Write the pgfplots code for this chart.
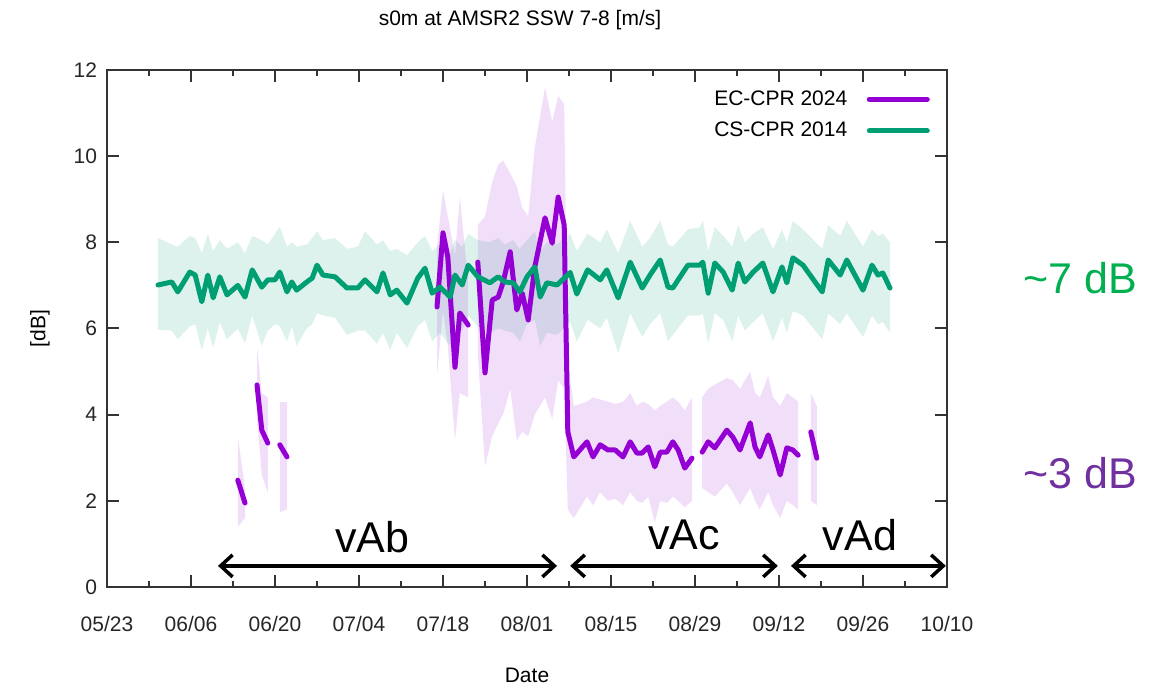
\documentclass[border=0pt]{standalone}
\usepackage{fontspec}
\setmainfont{Liberation Sans}
\usepackage{pgfplots}
\usepackage{pgfplotstable}
\pgfplotsset{compat=1.18}
\usepgfplotslibrary{fillbetween}
\usetikzlibrary{arrows.meta}
\definecolor{ecp}{HTML}{9400D3}
\definecolor{csg}{HTML}{009E73}
\definecolor{txtg}{HTML}{00B050}
\definecolor{txtp}{HTML}{7030A0}

\pgfplotstableread{
x y lo hi
8.5 7.01 5.97 8.10
10.8 7.08 5.95 7.95
11.8 6.85 5.75 7.90
13.8 7.31 6.05 8.15
14.7 7.24 6.10 8.10
15.8 6.62 5.50 7.75
16.8 7.24 6.00 8.20
17.7 6.71 5.55 7.80
18.8 7.20 6.15 8.05
20.0 6.78 5.75 7.85
21.8 7.00 6.00 8.00
23.0 6.73 5.65 7.75
24.2 7.36 6.30 8.15
25.8 6.96 5.60 8.05
26.8 7.13 5.95 7.95
28.0 7.13 6.10 8.20
28.8 7.31 6.05 8.36
30.0 6.85 5.70 7.90
30.8 7.08 6.05 8.00
31.6 6.89 5.60 7.90
33.3 7.08 6.00 7.95
34.2 7.17 6.10 8.10
35.0 7.47 6.35 8.26
36.0 7.24 6.30 8.05
38.0 7.20 6.25 8.10
40.0 6.94 5.85 7.85
41.8 6.94 5.95 7.90
43.0 7.13 5.95 8.26
45.0 6.85 5.65 7.95
46.0 7.29 5.90 8.05
47.2 6.78 5.50 7.80
48.3 6.89 5.90 7.85
50.0 6.59 5.55 7.70
51.8 7.17 6.05 8.00
53.0 7.40 6.20 8.15
54.2 6.82 5.70 7.80
55.5 6.96 5.90 7.95
57.2 6.73 5.60 7.75
58.0 7.24 6.10 8.05
59.2 7.01 5.95 7.90
60.2 7.47 6.30 8.20
61.8 7.20 6.05 8.05
63.8 7.06 5.90 8.00
65.2 7.20 6.00 8.10
66.3 7.08 5.95 7.95
67.7 7.06 5.90 8.05
68.8 6.85 5.70 7.85
70.0 7.20 6.10 8.05
71.3 7.43 6.20 8.25
72.2 6.73 5.60 7.80
73.3 7.06 5.90 8.00
75.0 7.01 5.85 7.95
77.2 7.30 6.15 8.20
78.3 6.80 5.70 7.80
80.1 7.36 6.20 8.20
82.2 7.13 6.00 8.00
83.3 7.36 6.25 8.30
85.2 6.71 5.43 7.75
87.2 7.54 6.35 8.50
89.2 6.94 5.80 7.90
90.5 7.24 6.10 8.10
92.2 7.59 6.35 8.50
93.5 6.96 5.70 7.95
94.3 6.94 5.85 7.90
96.8 7.47 6.30 8.30
98.8 7.47 6.30 8.35
99.3 7.54 6.35 8.50
100.2 6.82 5.65 7.80
101.3 7.52 6.35 8.35
102.7 7.31 6.20 8.15
104.2 6.89 5.70 7.90
105.2 7.52 6.30 8.40
106.3 7.08 5.95 8.00
107.7 7.31 6.15 8.20
109.3 7.52 6.35 8.35
111.0 6.85 5.70 7.85
112.5 7.43 6.25 8.30
113.3 7.06 5.90 8.00
114.3 7.64 6.40 8.50
116.0 7.47 6.30 8.30
119.2 6.85 5.75 7.85
120.2 7.59 6.35 8.40
122.2 7.24 6.10 8.15
123.3 7.59 6.35 8.50
126.0 6.89 5.80 7.90
127.5 7.47 6.30 8.30
128.5 7.24 6.10 8.15
129.3 7.29 6.15 8.20
130.5 6.94 5.90 8.00
}\cs

\pgfplotstableread{
x y lo hi
21.8 2.48 1.40 3.50
23.0 1.95 1.60 2.30
}\pA
\pgfplotstableread{
x y lo hi
25.0 4.69 3.90 5.57
25.8 3.64 2.60 4.50
26.8 3.34 2.20 4.40
}\pB
\pgfplotstableread{
x y lo hi
28.8 3.30 1.74 4.29
30.0 3.02 1.80 4.29
}\pC
\pgfplotstableread{
x y lo hi
55.0 6.50 4.90 7.90
56.0 8.22 6.40 9.20
56.8 7.66 5.60 8.60
58.0 5.10 3.40 7.70
58.8 6.36 4.50 9.05
60.2 6.08 4.40 7.10
}\pD
\pgfplotstableread{
x y lo hi
61.8 7.54 5.40 8.40
63.0 4.97 2.80 8.60
64.2 6.66 3.50 9.40
65.2 6.73 3.80 9.80
66.0 7.06 4.00 9.90
67.2 7.78 4.60 9.60
68.3 6.43 3.40 9.30
69.2 6.82 3.60 8.80
70.2 6.20 3.50 8.60
71.3 7.43 4.00 10.20
73.0 8.57 4.40 11.60
74.2 7.98 3.90 10.80
75.2 9.05 4.80 11.40
76.2 8.40 4.60 11.20
76.8 3.60 1.80 5.20
77.8 3.02 1.60 4.20
80.0 3.37 2.10 4.30
81.0 3.02 1.90 4.40
82.2 3.30 2.20 4.35
83.5 3.18 2.00 4.30
84.7 3.18 2.05 4.25
86.0 3.02 1.90 4.30
87.2 3.37 2.20 4.50
88.3 3.11 2.00 4.20
89.2 3.11 1.95 4.30
90.2 3.25 2.10 4.25
91.3 2.79 1.50 4.10
92.2 3.13 2.00 4.20
93.3 3.13 1.95 4.30
94.3 3.37 2.10 4.40
95.2 3.18 2.00 4.30
96.3 2.76 1.85 4.10
97.5 2.99 2.00 4.40
}\pE
\pgfplotstableread{
x y lo hi
99.2 3.13 2.30 4.40
100.2 3.37 2.20 4.60
101.3 3.23 2.10 4.70
103.3 3.64 2.40 4.85
104.3 3.48 2.20 4.80
105.5 3.18 1.90 4.60
107.2 3.81 2.30 5.00
108.0 3.25 2.00 4.50
108.8 3.02 1.80 4.40
110.2 3.53 2.20 4.90
111.0 3.18 1.90 4.40
112.2 2.60 1.60 4.20
113.3 3.23 2.00 4.50
114.3 3.18 1.90 4.40
115.2 3.06 1.80 4.30
}\pF
\pgfplotstableread{
x y lo hi
117.3 3.60 2.00 4.50
118.3 2.99 1.90 4.20
}\pG

\newcommand{\band}[3]{%
  \addplot[name path=hi#3, draw=none, forget plot] table[x=x,y=hi]{#1};
  \addplot[name path=lo#3, draw=none, forget plot] table[x=x,y=lo]{#1};
  \addplot[fill=#2, fill opacity=0.13, draw=none, forget plot] fill between[of=hi#3 and lo#3];
}
\newcommand{\pline}[1]{%
  \addplot[ecp, line width=2.5pt, line join=round, line cap=round, forget plot] table[x=x,y=y]{#1};
}

\begin{document}
\begin{tikzpicture}
\begin{axis}[
  width=420pt, height=258.5pt, scale only axis,
  xmin=0, xmax=140, ymin=0, ymax=12,
  xtick={0,14,...,140},
  xticklabels={05/23,06/06,06/20,07/04,07/18,08/01,08/15,08/29,09/12,09/26,10/10},
  minor x tick num=1,
  ytick={0,2,...,12},
  tick align=inside,
  major tick length=6pt, minor tick length=3pt,
  axis line style={black!80, line width=1.2pt},
  every tick/.style={black!80, line width=1pt},
  tick label style={font=\fontsize{10.5}{12}\selectfont, black!85},
  xticklabel style={yshift=-11pt},
  yticklabel style={xshift=-1.5pt},
  /pgf/number format/assume math mode=true,
  title={s0m at AMSR2 SSW 7-8 [m/s]},
  title style={at={(axis description cs:0.5,1)}, anchor=center, yshift=19pt, xshift=-3.5pt, font=\fontsize{10.5}{12}\selectfont},
  xlabel={Date},
  x label style={at={(axis description cs:0.5,0)}, anchor=center, yshift=-44pt, font=\fontsize{10.5}{12}\selectfont},
  ylabel={[dB]},
  y label style={at={(axis description cs:0,0.5)}, anchor=center, yshift=33.5pt, font=\fontsize{10.5}{12}\selectfont},
  clip=false,
  legend style={at={(axis cs:138.2,11.72)}, anchor=north east, draw=none, fill=none,
    font=\fontsize{10.5}{12}\selectfont, row sep=3pt},
  legend cell align=right,
  legend plot pos=right,
  legend image code/.code={\path[draw=none, fill=none] (0pt,0pt) rectangle (9pt,0.1pt); \draw[#1] (9pt,0pt) -- (38pt,0pt);},
]
\band{\cs}{csg}{g}
\band{\pA}{ecp}{a}
\band{\pB}{ecp}{b}
\band{\pC}{ecp}{c}
\band{\pD}{ecp}{d}
\band{\pE}{ecp}{e}
\band{\pF}{ecp}{f}
\band{\pG}{ecp}{h}
\pline{\pA}
\pline{\pB}
\pline{\pC}
\pline{\pD}
\pline{\pE}
\pline{\pF}
\pline{\pG}
\addplot[csg, line width=2.5pt, line join=round, line cap=round, forget plot] table[x=x,y=y]{\cs};

\addlegendimage{ecp, line width=2.5pt, line cap=round}
\addlegendentry{EC-CPR 2024}
\addlegendimage{csg, line width=2.5pt, line cap=round}
\addlegendentry{CS-CPR 2014}

\draw[{Straight Barb[length=6pt,width=11pt]}-{Straight Barb[length=6pt,width=11pt]}, line width=1.75pt] (axis cs:18.5,0.49) -- (axis cs:75,0.49);
\draw[{Straight Barb[length=6pt,width=11pt]}-{Straight Barb[length=6pt,width=11pt]}, line width=1.75pt] (axis cs:77.2,0.49) -- (axis cs:111.8,0.49);
\draw[{Straight Barb[length=6pt,width=11pt]}-{Straight Barb[length=6pt,width=11pt]}, line width=1.75pt] (axis cs:114,0.49) -- (axis cs:139.8,0.49);
\node[font=\fontsize{21.5}{24}\selectfont] at (axis cs:44.2,1.16) {vAb};
\node[font=\fontsize{21.5}{24}\selectfont] at (axis cs:96.2,1.21) {vAc};
\node[font=\fontsize{21.5}{24}\selectfont] at (axis cs:125.5,1.21) {vAd};
\node[font=\fontsize{21.5}{24}\selectfont, text=txtg] at (axis cs:162.2,7.17) {\textasciitilde 7 dB};
\node[font=\fontsize{21.5}{24}\selectfont, text=txtp] at (axis cs:162.2,2.65) {\textasciitilde 3 dB};
\end{axis}
\path (-53.5pt,-50pt) rectangle (530.5pt,293.5pt);
\end{tikzpicture}
\end{document}
